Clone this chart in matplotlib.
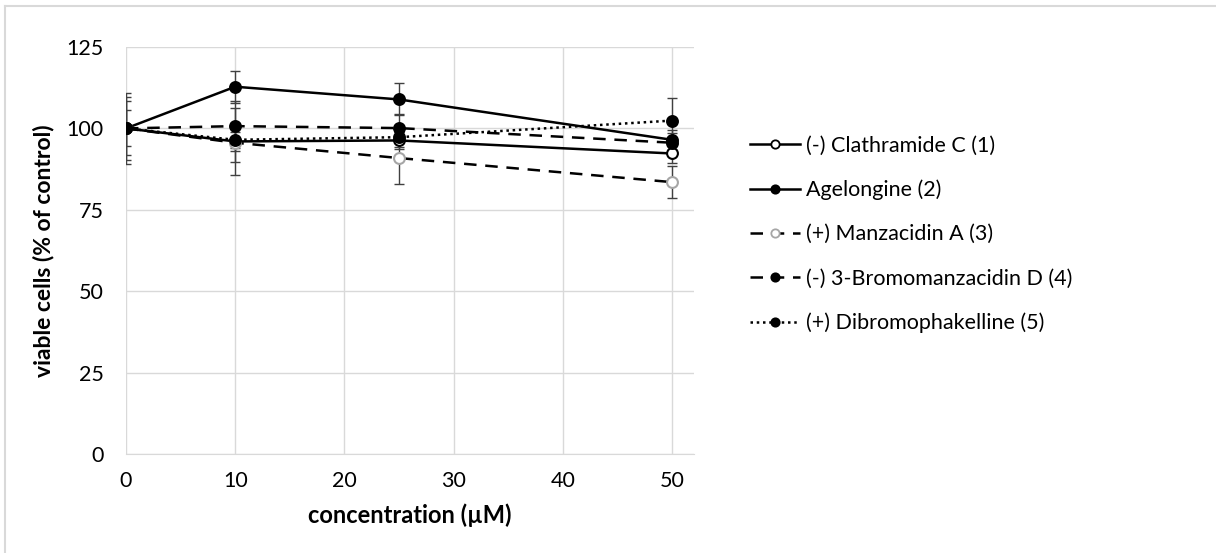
import matplotlib.pyplot as plt
from matplotlib.lines import Line2D

plt.rcParams['font.family'] = ['Lato', 'DejaVu Sans']

conc = [0, 10, 25, 50]

clath = [100, 96.0, 96.3, 92.3]
clath_err = [9.6, 10.2, 2.5, 3.0]
agel = [100, 112.8, 108.9, 96.5]
agel_err = [5.5, 4.9, 4.9, 3.0]
manz = [100, 95.6, 90.9, 83.5]
manz_err = [11.0, 6.0, 8.1, 5.0]
bromo = [100, 100.7, 100.1, 95.6]
bromo_err = [8.3, 7.6, 4.2, 3.0]
dibromo = [100, 96.5, 97.3, 102.4]
dibromo_err = [0, 2.5, 3.0, 6.8]

labels = ["(-) Clathramide C (1)", "Agelongine (2)", "(+) Manzacidin A (3)",
          "(-) 3-Bromomanzacidin D (4)", "(+) Dibromophakelline (5)"]

fig = plt.figure(figsize=(12.16, 5.53), dpi=100)
ax = fig.add_axes([0.1036, 0.179, 0.467, 0.736])

dash = (0, (5, 3.5))
series = [
    (clath, clath_err, '-', 'black', 'white'),
    (agel, agel_err, '-', 'black', 'black'),
    (manz, manz_err, dash, '#a6a6a6', 'white'),
    (bromo, bromo_err, dash, 'black', 'black'),
    (dibromo, dibromo_err, (0, (1, 1.5)), 'black', 'black'),
]

handles = []
for (vals, errs, ls, mec, mfc), lab in zip(series, labels):
    ax.errorbar(conc, vals, yerr=errs, fmt='none', ecolor='#404040',
                elinewidth=1, capsize=3.6, capthick=1, zorder=2)
    ax.plot(conc, vals, linestyle=ls, color='black', linewidth=1.8,
            marker='o', markersize=7.8, markeredgecolor=mec,
            markerfacecolor=mfc, markeredgewidth=1.5, zorder=3)
    handles.append(Line2D([], [], linestyle=ls, color='black', linewidth=1.8,
                          marker='o', markersize=6, markeredgecolor=mec,
                          markerfacecolor=mfc, markeredgewidth=1.3))

ax.set_xlim(0, 52)
ax.set_ylim(0, 125)
ax.set_xticks([0, 10, 20, 30, 40, 50])
ax.set_yticks([0, 25, 50, 75, 100, 125])
ax.grid(True, color='#d9d9d9', linewidth=1)
ax.set_axisbelow(True)
for s in ['top', 'right', 'left']:
    ax.spines[s].set_visible(False)
ax.spines['bottom'].set_color('#d9d9d9')
ax.tick_params(length=0, labelsize=15.5, colors='black')
ax.tick_params(axis='x', pad=12)
ax.tick_params(axis='y', pad=16)

ax.set_xlabel("concentration (µM)", fontsize=17, fontweight='bold', labelpad=9)
ax.set_ylabel("viable cells (% of control)", fontsize=16.5, fontweight='bold', labelpad=9)

fig.legend(handles, labels, loc='upper left', bbox_to_anchor=(0.6168, 0.755),
           frameon=False, fontsize=15.5, handlelength=2.3, handletextpad=0.3,
           labelspacing=1.12, borderaxespad=0, borderpad=0)

# outer chart border
fig.add_artist(Line2D([5 / 1216, 5 / 1216], [0, 1 - 6 / 553], transform=fig.transFigure,
                      color='#d9d9d9', linewidth=1.5))
fig.add_artist(Line2D([5 / 1216, 1], [1 - 6 / 553, 1 - 6 / 553], transform=fig.transFigure,
                      color='#d9d9d9', linewidth=1.5))

fig.savefig("out.png", dpi=100)
